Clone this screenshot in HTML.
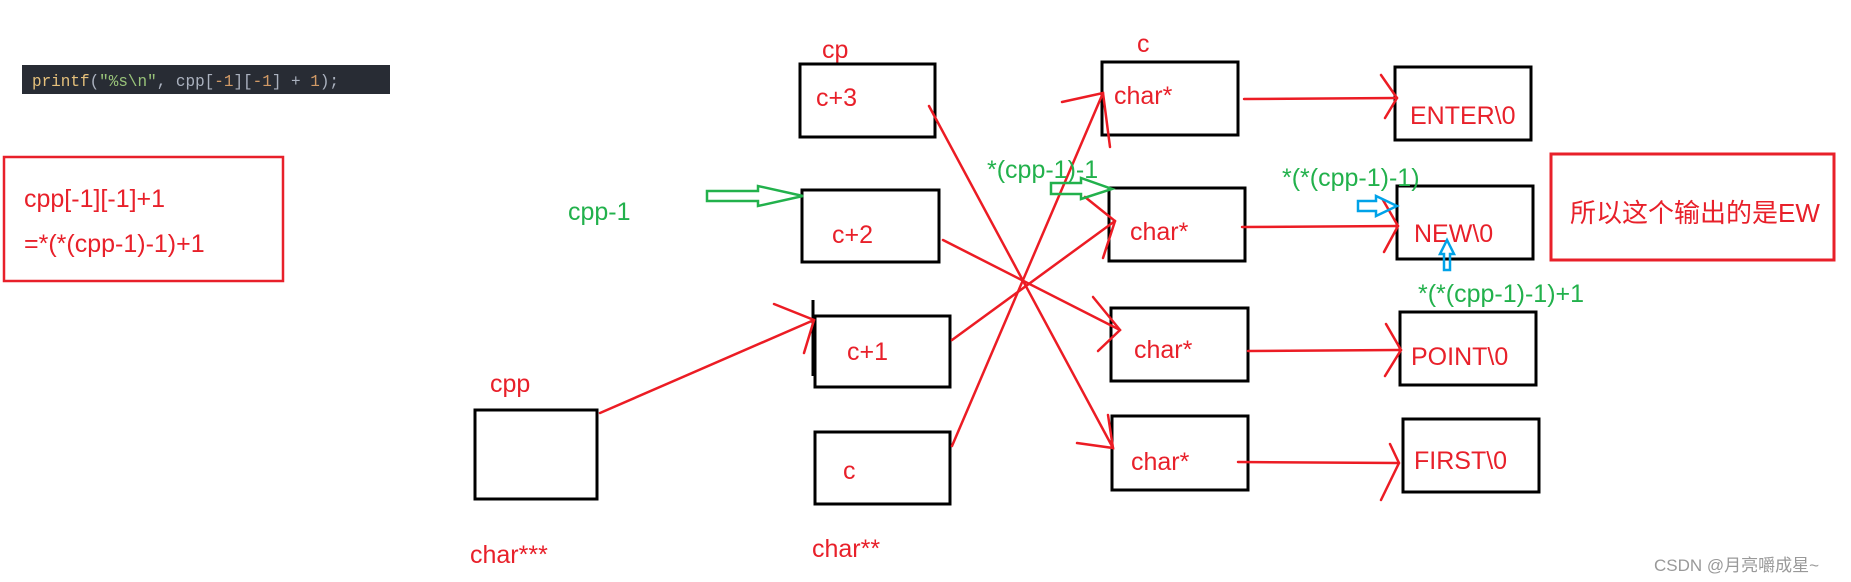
<!DOCTYPE html>
<html><head><meta charset="utf-8"><style>
html,body{margin:0;padding:0;background:#fff;}
svg{display:block;}
text{font-family:"Liberation Sans","Noto Sans CJK SC",sans-serif;}
</style></head><body>
<svg width="1851" height="582" viewBox="0 0 1851 582" xmlns="http://www.w3.org/2000/svg">
<rect x="0" y="0" width="1851" height="582" fill="#fff"/>
<rect x="22" y="65" width="368" height="29" fill="#282c34"/>
<text x="32" y="86" font-size="17" fill="#abb2bf" textLength="307" lengthAdjust="spacingAndGlyphs" style="font-family:'Liberation Mono',monospace"><tspan fill="#e5c07b">printf</tspan>(<tspan fill="#98c379">"%s\n"</tspan>, cpp[<tspan fill="#d19a66">-1</tspan>][<tspan fill="#d19a66">-1</tspan>] + <tspan fill="#d19a66">1</tspan>);</text>
<rect x="4" y="157" width="279" height="124" fill="none" stroke="#e8202a" stroke-width="2.5"/>
<text x="24" y="207" font-size="25" fill="#e8202a">cpp[-1][-1]+1</text>
<text x="24" y="252" font-size="25" fill="#e8202a">=*(*(cpp-1)-1)+1</text>
<text x="568" y="220" font-size="25" fill="#22b14c">cpp-1</text>
<text x="822" y="58" font-size="25" fill="#e8202a">cp</text>
<text x="490" y="392" font-size="25" fill="#e8202a">cpp</text>
<text x="470" y="563" font-size="25" fill="#e8202a">char***</text>
<text x="812" y="557" font-size="25" fill="#e8202a">char**</text>
<text x="1137" y="52" font-size="25" fill="#e8202a">c</text>
<g fill="none" stroke="#000" stroke-width="3">
<rect x="800" y="64" width="135" height="73"/>
<rect x="802" y="190" width="137" height="72"/>
<rect x="815" y="316" width="135" height="71"/>
<line x1="813" y1="300" x2="813" y2="376"/>
<rect x="815" y="432" width="135" height="72"/>
<rect x="475" y="410" width="122" height="89"/>
<rect x="1102" y="62" width="136" height="73"/>
<rect x="1109" y="188" width="136" height="73"/>
<rect x="1111" y="308" width="137" height="73"/>
<rect x="1112" y="416" width="136" height="74"/>
<rect x="1395" y="67" width="136" height="73"/>
<rect x="1397" y="186" width="136" height="73"/>
<rect x="1400" y="312" width="136" height="73"/>
<rect x="1403" y="419" width="136" height="73"/>
</g>
<g font-size="25" fill="#e8202a">
<text x="816" y="106">c+3</text>
<text x="832" y="243">c+2</text>
<text x="847" y="360">c+1</text>
<text x="843" y="479">c</text>
<text x="1114" y="104">char*</text>
<text x="1130" y="240">char*</text>
<text x="1134" y="358">char*</text>
<text x="1131" y="470">char*</text>
<text x="1410" y="124">ENTER\0</text>
<text x="1414" y="242">NEW\0</text>
<text x="1411" y="365">POINT\0</text>
<text x="1414" y="469">FIRST\0</text>
</g>
<rect x="1551" y="154" width="283" height="106" fill="none" stroke="#e8202a" stroke-width="3"/>
<text x="1570" y="222" font-size="26" fill="#e8202a">所以这个输出的是EW</text>
<g stroke="#ec1c24" stroke-width="2.5" fill="none" stroke-linecap="round">
<line x1="600" y1="413" x2="814" y2="320"/>
<polyline points="774,304 814,320 804,353"/>
<line x1="929" y1="106" x2="1113" y2="448"/>
<polyline points="1108,415 1113,448 1077,443"/>
<line x1="943" y1="240" x2="1120" y2="330"/>
<polyline points="1093,297 1120,330 1098,351"/>
<line x1="952" y1="340" x2="1115" y2="221"/>
<polyline points="1085,197 1115,221 1103,258"/>
<line x1="952" y1="446" x2="1103" y2="93"/>
<polyline points="1062,102 1103,93 1110,147"/>
<line x1="1244" y1="99" x2="1397" y2="98"/>
<polyline points="1381,75 1397,98 1385,118"/>
<line x1="1242" y1="227" x2="1398" y2="226"/>
<polyline points="1383,200 1398,226 1384,252"/>
<line x1="1248" y1="351" x2="1401" y2="350"/>
<polyline points="1386,324 1401,350 1385,376"/>
<line x1="1238" y1="462" x2="1399" y2="463"/>
<polyline points="1390,444 1399,463 1381,500"/>
</g>
<polygon points="707,191 758,191 758,186 803,196 758,206 758,201 707,201" fill="none" stroke="#22b14c" stroke-width="2.5"/>
<polygon points="1051,183 1081,183 1081,178 1112,189 1081,199 1081,194 1051,194" fill="none" stroke="#22b14c" stroke-width="2.5"/>
<polygon points="1358,201 1376,201 1376,196 1397,206 1376,216 1376,211 1358,211" fill="none" stroke="#00a2e8" stroke-width="2.5"/>
<polygon points="1444,270 1444,254 1440,254 1447,240 1454,254 1450,254 1450,270" fill="none" stroke="#00a2e8" stroke-width="2.5"/>
<text x="987" y="178" font-size="25" fill="#22b14c">*(cpp-1)-1</text>
<text x="1282" y="186" font-size="25" fill="#22b14c">*(*(cpp-1)-1)</text>
<text x="1418" y="302" font-size="25" fill="#22b14c">*(*(cpp-1)-1)+1</text>
<text x="1654" y="571" font-size="17" fill="#999">CSDN @月亮嚼成星~</text>
</svg>
</body></html>
